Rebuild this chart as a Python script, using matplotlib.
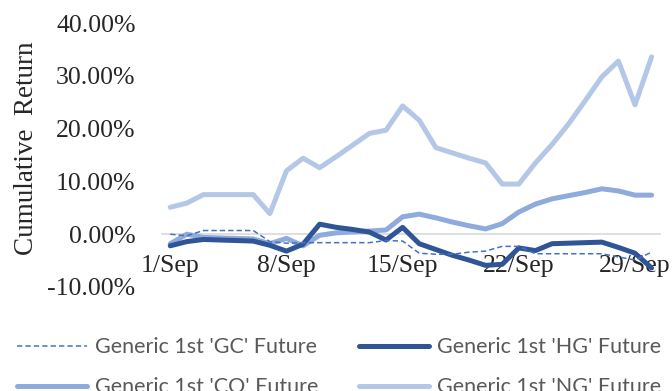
import matplotlib
matplotlib.use("Agg")
from matplotlib import pyplot as plt
from matplotlib.ticker import FuncFormatter

# days of September 2017 shown on the category axis
days = list(range(1, 31))
tick_days = [1, 8, 15, 22, 29]
tick_labels = ["%d/Sep" % d for d in tick_days]

# cumulative returns in percent
gc = [0.0, -0.3, 0.7, 0.7, 0.7, 0.7, -1.4, -1.7, -1.6, -1.6,
      -1.6, -1.6, -1.6, -1.2, -1.3, -3.6, -3.8, -3.8, -3.4, -3.2,
      -2.3, -2.3, -3.7, -3.7, -3.7, -3.7, -3.7, -4.3, -4.9, -3.4]
hg = [-2.2, -1.4, -1.0, -1.1, -1.2, -1.3, -2.1, -3.2, -1.9, 1.9,
      1.3, 0.9, 0.4, -1.1, 1.3, -1.8, -2.9, -4.0, -4.9, -5.9,
      -5.7, -2.6, -3.1, -1.8, -1.7, -1.6, -1.5, -2.5, -3.6, -6.4]
co = [-1.8, 0.0, -0.6, -0.7, -0.8, -0.9, -1.8, -0.8, -2.2, -0.2,
      0.25, 0.45, 0.6, 0.8, 3.3, 3.8, 3.1, 2.3, 1.6, 1.0,
      2.0, 4.2, 5.7, 6.7, 7.3, 7.9, 8.6, 8.2, 7.4, 7.4]
ng = [5.1, 5.9, 7.5, 7.5, 7.5, 7.5, 3.9, 12.0, 14.4, 12.6,
      14.7, 16.9, 19.1, 19.7, 24.3, 21.6, 16.4, 15.4, 14.4, 13.5,
      9.5, 9.5, 13.5, 17.0, 20.9, 25.3, 29.8, 32.8, 24.5, 33.6]

x = list(range(len(days)))

serif = 'Liberation Serif'
plt.rcParams['font.family'] = serif

fig = plt.figure(figsize=(6.72, 3.91), dpi=100)
ax = fig.add_axes([0.241, 0.266, 0.741, 0.675])

kw = dict(solid_capstyle='round', solid_joinstyle='round')
l_ng, = ax.plot(x, ng, color='#B4C7E7', lw=3.6, label="Generic 1st 'NG' Future", zorder=2, **kw)
l_co, = ax.plot(x, co, color='#8FAADC', lw=3.6, label="Generic 1st 'CO' Future", zorder=3, **kw)
l_hg, = ax.plot(x, hg, color='#2F5597', lw=3.6, label="Generic 1st 'HG' Future", zorder=4, **kw)
l_gc, = ax.plot(x, gc, color='#4472C4', lw=1.1, ls=(0, (3.5, 2)),
                label="Generic 1st 'GC' Future", zorder=5)

ax.set_xlim(-0.5, len(days) - 0.5)
ax.set_ylim(-10, 40)
ax.set_yticks([-10, 0, 10, 20, 30, 40])
ax.yaxis.set_major_formatter(FuncFormatter(lambda v, p: "%.2f%%" % v))
ax.set_xticks([days.index(d) for d in tick_days])
ax.set_xticklabels(tick_labels)

ax.tick_params(axis='both', length=0, labelsize=18.5, labelcolor='#262626')
ax.tick_params(axis='y', pad=19)
ax.tick_params(axis='x', pad=15)

for s in ('left', 'right', 'top'):
    ax.spines[s].set_visible(False)
ax.spines['bottom'].set_position(('data', 0))
ax.spines['bottom'].set_color('#D9D9D9')
ax.spines['bottom'].set_linewidth(1.2)
ax.spines['bottom'].set_zorder(1)

fig.text(0.039, 0.62, "Cumulative  Return", rotation=90, ha='center', va='center',
         fontsize=19.5, color='#262626')

leg = fig.legend(handles=[l_gc, l_co, l_hg, l_ng], ncol=2, loc='upper left',
                 bbox_to_anchor=(0.025, 0.137), frameon=False,
                 prop={'family': 'Lato', 'size': 15.5}, handlelength=3.25,
                 handletextpad=0.37, columnspacing=1.9, labelspacing=0.93,
                 borderaxespad=0, borderpad=0)
for t in leg.get_texts():
    t.set_color('#595959')

fig.savefig('out.png', dpi=100)
